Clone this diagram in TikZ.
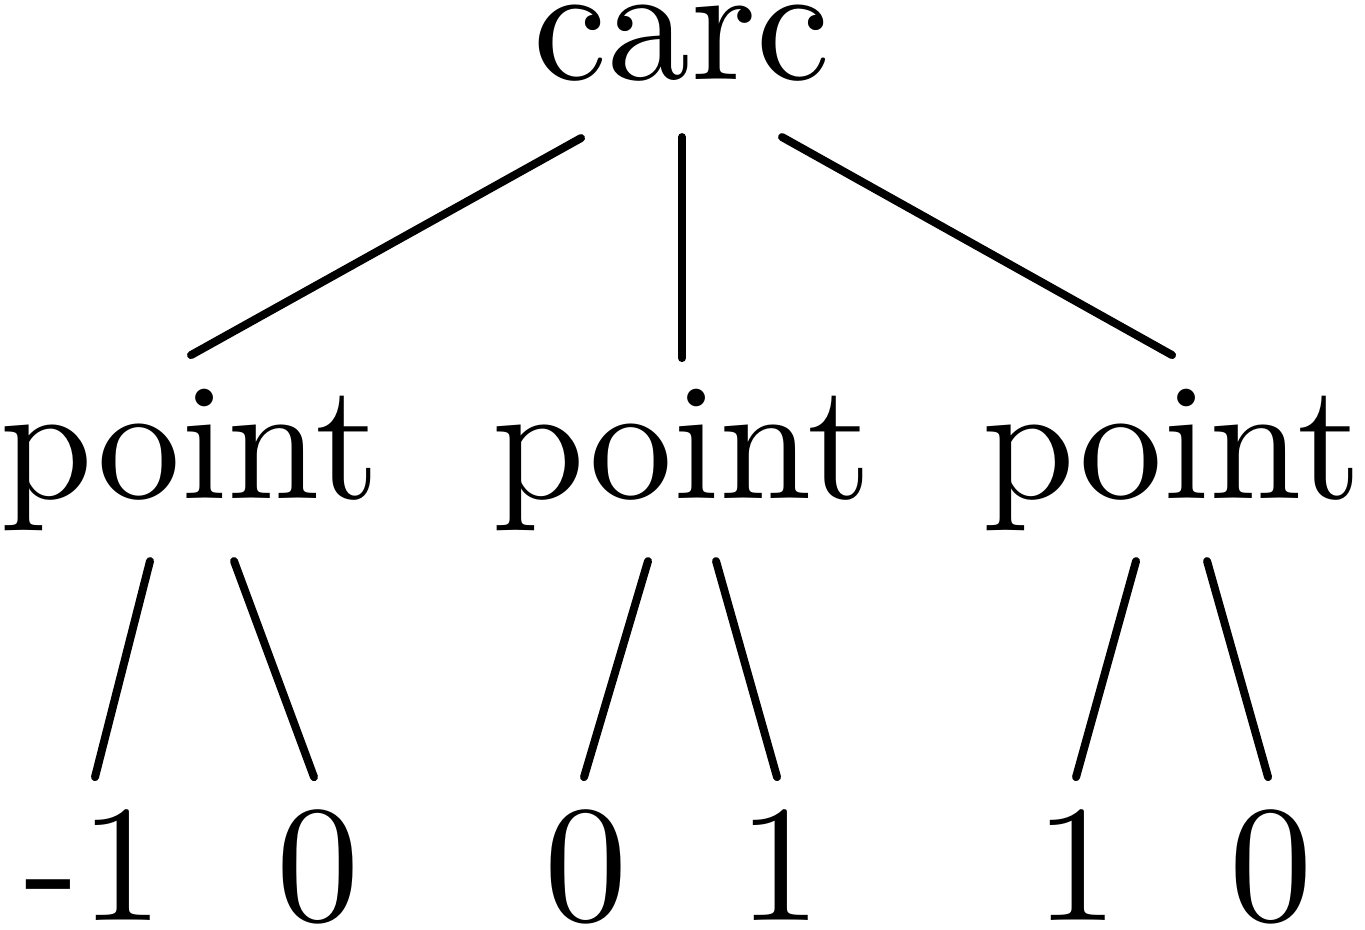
\documentclass[tikz,border=0pt]{standalone}
\usetikzlibrary{calc}
\begin{document}
\begin{tikzpicture}[x=0.0625pt,y=-0.0625pt,
  lbl/.style={inner sep=0pt, outer sep=0pt, anchor=base, font=\fontsize{10.4}{12.5}\selectfont},
  conn/.style={line width=0.5pt, line cap=round}]
\useasboundingbox (0,0) rectangle (1365,929);
% nodes
\node[lbl] (carc) at (682,79) {carc};
\node[lbl] (p1) at (190.5,498) {point};
\node[lbl] (p2) at (682.5,498) {point};
\node[lbl] (p3) at (1172.5,498) {point};
\node[lbl] (d1) at (94,920) {-1};
\node[lbl] (d2) at (318,920) {0};
\node[lbl] (d3) at (586,920) {0};
\node[lbl] (d4) at (780,920) {1};
\node[lbl] (d5) at (1077,920) {1};
\node[lbl] (d6) at (1271,920) {0};
% edges
\draw[conn] ($(carc.base)+(-101,59)$) -- ($(p1.base)+(0.5,-143)$);
\draw[conn] ($(carc.base)+(0,58)$) -- ($(p2.base)+(-0.5,-140)$);
\draw[conn] ($(carc.base)+(100,58)$) -- ($(p3.base)+(-0.5,-143)$);
\draw[conn] ($(p1.base)+(-40.5,63)$) -- ($(d1.base)+(1,-143)$);
\draw[conn] ($(p1.base)+(43.5,63)$) -- ($(d2.base)+(-4,-143)$);
\draw[conn] ($(p2.base)+(-34.5,63)$) -- ($(d3.base)+(-2,-143)$);
\draw[conn] ($(p2.base)+(33.5,63)$) -- ($(d4.base)+(-3,-143)$);
\draw[conn] ($(p3.base)+(-36.5,63)$) -- ($(d5.base)+(-1,-143)$);
\draw[conn] ($(p3.base)+(34.5,63)$) -- ($(d6.base)+(-3,-143)$);
\end{tikzpicture}
\end{document}
